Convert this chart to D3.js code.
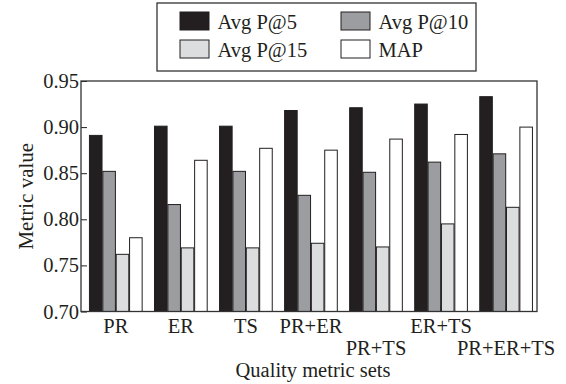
<!DOCTYPE html>
<html>
<head>
<meta charset="utf-8">
<script src="https://cdn.jsdelivr.net/npm/d3@7"></script>
<style>
  html, body { margin: 0; padding: 0; background: #fff; }
  svg { display: block; }
  svg text { font-family: 'Liberation Serif', 'Times New Roman', serif; }
</style>
</head>
<body>
<div id="chart"></div>
<script>
// quality metric sets on the x axis
const categories = ['PR', 'ER', 'TS', 'PR+ER', 'PR+TS', 'ER+TS', 'PR+ER+TS'];
const seriesNames = ['Avg P@5', 'Avg P@10', 'Avg P@15', 'MAP'];

// values, one per category
const avgP5  = [0.891, 0.901, 0.901, 0.918, 0.921, 0.925, 0.933];
const avgP10 = [0.852, 0.816, 0.852, 0.826, 0.851, 0.862, 0.871];
const avgP15 = [0.762, 0.769, 0.769, 0.774, 0.770, 0.795, 0.813];
const mapVal = [0.780, 0.864, 0.877, 0.875, 0.887, 0.892, 0.900];

const yTicks = [0.70, 0.75, 0.80, 0.85, 0.90, 0.95];

const W = 566, H = 384;
const M = { top: 81, right: 29, bottom: 72.5, left: 81 };
const INK = '#231f20';
const FONT = "'Liberation Serif', 'Times New Roman', serif";
const fills = ['#231f20', '#9c9da0', '#dcdddf', '#ffffff'];

const series = [avgP5, avgP10, avgP15, mapVal];
const rows = categories.map((c, i) => ({
  cat: c,
  vals: series.map((s, k) => ({ key: seriesNames[k], val: s[i] }))
}));

const svg = d3.select('#chart').append('svg').attr('width', W).attr('height', H);

const x0 = d3.scaleBand().domain(categories)
  .range([M.left, W - M.right]).paddingInner(0.19).paddingOuter(0.1).align(0.65);
const x1 = d3.scaleBand().domain(seriesNames)
  .range([0, x0.bandwidth()]).paddingInner(0.06);
const y = d3.scaleLinear().domain([0.70, 0.95]).range([H - M.bottom, M.top]);

// y axis (ticks point inward)
const yAx = svg.append('g').attr('transform', `translate(${M.left},0)`)
  .call(d3.axisLeft(y).tickValues(yTicks).tickFormat(d3.format('.2f'))
    .tickSizeInner(-6).tickSizeOuter(0).tickPadding(2));
yAx.attr('font-family', FONT);
yAx.select('.domain').remove();
yAx.selectAll('line').attr('stroke', INK).attr('stroke-width', 1);
yAx.selectAll('text').attr('font-size', 20.5).attr('fill', INK);

// x axis (ticks point inward, crowded labels drop to a second row)
const xAx = svg.append('g').attr('transform', `translate(0,${H - M.bottom})`)
  .call(d3.axisBottom(x0).tickSizeInner(-6).tickSizeOuter(0).tickPadding(7));
xAx.attr('font-family', FONT);
xAx.select('.domain').remove();
xAx.selectAll('line').attr('stroke', INK).attr('stroke-width', 1);
const xt = xAx.selectAll('text').attr('font-size', 20.5).attr('fill', INK);

let lastRight = -Infinity;
xt.each(function (d) {
  const w = this.getComputedTextLength();
  const cx = x0(d) + x0.bandwidth() / 2;
  if (cx - w / 2 < lastRight + 12) {
    d3.select(this).attr('y', 7 + 22);
  } else {
    lastRight = cx + w / 2;
  }
});

// bars
const groups = svg.append('g').selectAll('g').data(rows).join('g')
  .attr('transform', d => `translate(${x0(d.cat)},0)`);
groups.selectAll('rect').data(d => d.vals).join('rect')
  .attr('x', d => x1(d.key))
  .attr('y', d => y(d.val))
  .attr('width', x1.bandwidth())
  .attr('height', d => y(0.70) - y(d.val))
  .attr('fill', (d, i) => fills[i])
  .attr('stroke', INK).attr('stroke-width', 1);

// frame
svg.append('rect')
  .attr('x', M.left).attr('y', M.top)
  .attr('width', W - M.left - M.right).attr('height', H - M.top - M.bottom)
  .attr('fill', 'none').attr('stroke', '#333').attr('stroke-width', 1.3);

// axis titles
svg.append('text')
  .attr('transform', `translate(33,${(M.top + H - M.bottom) / 2}) rotate(-90)`)
  .attr('text-anchor', 'middle').attr('font-size', 21).attr('fill', INK)
  .attr('font-family', FONT)
  .text('Metric value');
svg.append('text')
  .attr('x', (M.left + W - M.right) / 2 + 4).attr('y', 376.5)
  .attr('text-anchor', 'middle').attr('font-size', 20.5).attr('fill', INK)
  .attr('font-family', FONT)
  .text('Quality metric sets');

// legend
const lg = svg.append('g');
lg.append('rect').attr('x', 157).attr('y', 3).attr('width', 319).attr('height', 68)
  .attr('fill', '#fff').attr('stroke', '#333').attr('stroke-width', 1.3);
const items = lg.selectAll('g.item').data(seriesNames).join('g').attr('class', 'item')
  .attr('transform', (d, i) => `translate(${i % 2 ? 341 : 180},${i < 2 ? 12 : 40})`);
items.append('rect').attr('width', 29).attr('height', 18)
  .attr('fill', (d, i) => fills[i]).attr('stroke', INK).attr('stroke-width', 1);
items.append('text').attr('x', 37.5).attr('y', 16.5)
  .attr('font-size', 20.5).attr('fill', INK).attr('font-family', FONT).text(d => d);
</script>
</body>
</html>
